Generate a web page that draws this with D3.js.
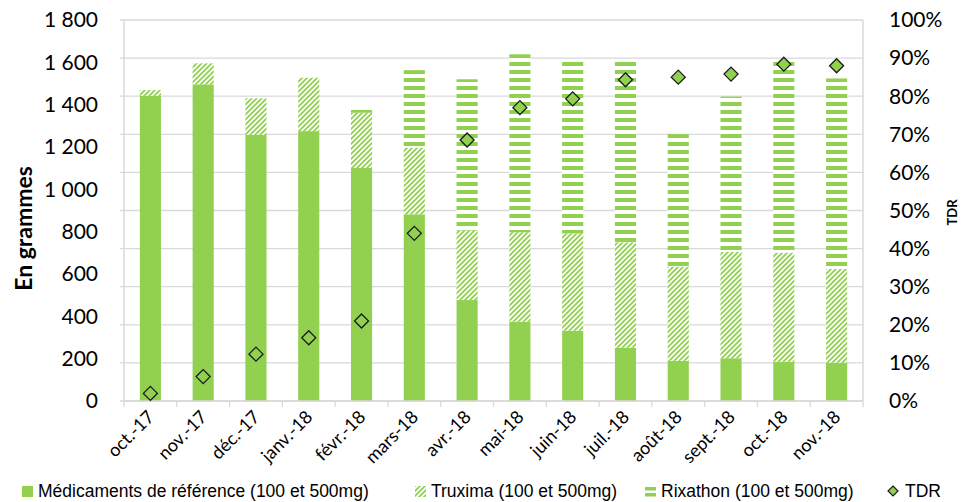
<!DOCTYPE html>
<html>
<head>
<meta charset="utf-8">
<script src="https://cdn.jsdelivr.net/npm/d3@7"></script>
<style>
  html, body { margin: 0; padding: 0; background: #fff; }
  svg { display: block; }
</style>
</head>
<body>
<svg id="chart" width="965" height="502"></svg>
<script>
// Monthly consumption (grams) of rituximab by product, with the TDR share
const months = ["oct.-17", "nov.-17", "déc.-17", "janv.-18", "févr.-18", "mars-18", "avr.-18",
                "mai-18", "juin-18", "juil.-18", "août-18", "sept.-18", "oct.-18", "nov.-18"];
const reference = [1442, 1496, 1257, 1275, 1101, 882, 477, 375, 332, 252, 190, 202, 186, 181];
const truxima   = [27, 99, 173, 252, 261, 315, 328, 422, 460, 498, 445, 503, 515, 443];
const rixathon  = [0, 0, 0, 0, 13, 366, 715, 841, 811, 853, 626, 733, 902, 900];
const tdr       = [0.020, 0.064, 0.123, 0.166, 0.210, 0.440, 0.685, 0.770, 0.793, 0.843, 0.850, 0.858, 0.884, 0.880];
const gramTicks = [0, 200, 400, 600, 800, 1000, 1200, 1400, 1600, 1800];
const pctTicks  = [0, 0.1, 0.2, 0.3, 0.4, 0.5, 0.6, 0.7, 0.8, 0.9, 1];
const seriesNames = ["Médicaments de référence (100 et 500mg)", "Truxima (100 et 500mg)",
                     "Rixathon (100 et 500mg)", "TDR"];

const green = "#92D050";
const gridColor = "#d9d9d9";
const axisFont = "Lato, 'Open Sans', sans-serif";

const svg = d3.select("#chart");
const plot = { left: 124, right: 863, top: 20, bottom: 401 };

const frLocale = d3.formatLocale({ decimal: ",", thousands: "\u00a0", grouping: [3], currency: ["", " €"] });
const fmtGrams = frLocale.format(",d");
const fmtPct = d3.format(".0%");

const x = d3.scaleBand().domain(months).range([plot.left, plot.right])
  .paddingInner(0.6).paddingOuter(0.3);
const yL = d3.scaleLinear().domain([0, 1800]).range([plot.bottom, plot.top]);
const yR = d3.scaleLinear().domain([0, 1]).range([plot.bottom, plot.top]);

// Fill patterns
const defs = svg.append("defs");
const diag = defs.append("pattern").attr("id", "diag")
  .attr("patternUnits", "userSpaceOnUse").attr("width", 5).attr("height", 5);
diag.append("rect").attr("width", 5).attr("height", 5).attr("fill", "#fff");
diag.append("path").attr("d", "M-1,1 L1,-1 M0,5 L5,0 M4,6 L6,4")
  .attr("stroke", green).attr("stroke-width", 1.8);

const stripes = defs.append("pattern").attr("id", "stripes")
  .attr("patternUnits", "userSpaceOnUse").attr("width", 8).attr("height", 8)
  .attr("y", 6);
stripes.append("rect").attr("width", 8).attr("height", 8).attr("fill", "#fff");
stripes.append("rect").attr("y", 0).attr("width", 8).attr("height", 4).attr("fill", green);

// Gridlines (secondary scale)
svg.append("g").selectAll("line").data(pctTicks).join("line")
  .attr("x1", plot.left - 4).attr("x2", plot.right)
  .attr("y1", d => yR(d)).attr("y2", d => yR(d))
  .attr("stroke", gridColor).attr("stroke-width", 1.3);

// Stacked bars
const stackData = months.map((m, i) => ({ m, reference: reference[i], truxima: truxima[i], rixathon: rixathon[i] }));
const stack = d3.stack().keys(["reference", "truxima", "rixathon"])(stackData);
const fills = { reference: green, truxima: "url(#diag)", rixathon: "url(#stripes)" };

svg.append("g").selectAll("g").data(stack).join("g")
  .attr("fill", s => fills[s.key])
  .selectAll("rect").data(s => s).join("rect")
  .attr("x", d => x(d.data.m))
  .attr("width", x.bandwidth())
  .attr("y", d => yL(d[1]))
  .attr("height", d => Math.max(0, yL(d[0]) - yL(d[1])));

// Axis frame lines
svg.append("line").attr("x1", plot.left).attr("x2", plot.left)
  .attr("y1", plot.top).attr("y2", plot.bottom).attr("stroke", gridColor).attr("stroke-width", 1.5);
svg.append("line").attr("x1", plot.right).attr("x2", plot.right)
  .attr("y1", plot.top).attr("y2", plot.bottom).attr("stroke", gridColor).attr("stroke-width", 1.5);
svg.append("line").attr("x1", plot.left).attr("x2", plot.right)
  .attr("y1", plot.bottom).attr("y2", plot.bottom).attr("stroke", gridColor).attr("stroke-width", 1.5);

// Category tick marks between bands
const step = x.step();
svg.append("g").selectAll("line").data(d3.range(months.length + 1)).join("line")
  .attr("x1", i => plot.left + i * step).attr("x2", i => plot.left + i * step)
  .attr("y1", plot.bottom).attr("y2", plot.bottom + 6)
  .attr("stroke", gridColor).attr("stroke-width", 1.3);

// TDR markers
const diamond = r => `M0,${-r}L${r},0L0,${r}L${-r},0Z`;
svg.append("g").selectAll("path").data(tdr).join("path")
  .attr("d", diamond(7))
  .attr("transform", (d, i) => `translate(${x(months[i]) + x.bandwidth() / 2},${yR(d)})`)
  .attr("fill", green).attr("stroke", "#1a1a1a").attr("stroke-width", 1.3);

// Left axis labels
svg.append("g").selectAll("text").data(gramTicks).join("text")
  .attr("x", 98).attr("y", d => yL(d)).attr("dy", "0.35em")
  .attr("text-anchor", "end")
  .attr("font-family", axisFont).attr("font-size", 21).attr("fill", "#000")
  .text(d => fmtGrams(d));

// Right axis labels
svg.append("g").selectAll("text").data(pctTicks).join("text")
  .attr("x", 889).attr("y", d => yR(d)).attr("dy", "0.35em")
  .attr("text-anchor", "start")
  .attr("font-family", axisFont).attr("font-size", 21).attr("fill", "#000")
  .text(d => fmtPct(d));

// Category labels
svg.append("g").selectAll("text").data(months).join("text")
  .attr("transform", d => `translate(${x(d) + x.bandwidth() / 2 + 5},${plot.bottom + 17}) rotate(-45)`)
  .attr("text-anchor", "end")
  .attr("font-family", axisFont).attr("font-size", 18).attr("fill", "#000")
  .text(d => d);

// Axis titles
svg.append("text")
  .attr("transform", `translate(32,${(plot.top + plot.bottom) / 2 + 18}) rotate(-90)`)
  .attr("text-anchor", "middle")
  .attr("font-family", axisFont).attr("font-size", 23).attr("font-weight", "bold")
  .text("En grammes");
svg.append("text")
  .attr("transform", `translate(957,${(plot.top + plot.bottom) / 2 + 2}) rotate(-90)`)
  .attr("text-anchor", "middle")
  .attr("font-family", axisFont).attr("font-size", 13).attr("font-weight", "bold")
  .text("TDR");

// Legend
const legendY = 491;
const legendFont = "'Liberation Sans', Arial, sans-serif";
const legendItems = [
  { x: 22, name: seriesNames[0], kind: "solid" },
  { x: 415, name: seriesNames[1], kind: "diag" },
  { x: 645, name: seriesNames[2], kind: "stripes" },
  { x: 888, name: seriesNames[3], kind: "diamond" }
];
const lg = svg.append("g").selectAll("g").data(legendItems).join("g")
  .attr("transform", d => `translate(${d.x},${legendY})`);
lg.each(function (d) {
  const g = d3.select(this);
  if (d.kind === "solid") {
    g.append("rect").attr("x", 0).attr("y", -5).attr("width", 11).attr("height", 11).attr("fill", green);
  } else if (d.kind === "diag") {
    g.append("rect").attr("x", 0).attr("y", -5).attr("width", 11).attr("height", 11).attr("fill", "url(#diag)");
  } else if (d.kind === "stripes") {
    g.append("rect").attr("x", 0).attr("y", -4).attr("width", 11).attr("height", 3.5).attr("fill", green);
    g.append("rect").attr("x", 0).attr("y", 2).attr("width", 11).attr("height", 3.5).attr("fill", green);
  } else {
    g.append("path").attr("d", diamond(5)).attr("transform", "translate(5,0)")
      .attr("fill", green).attr("stroke", "#1a1a1a").attr("stroke-width", 1.2);
  }
  g.append("text").attr("x", d.kind === "diamond" ? 17 : 16).attr("y", 0).attr("dy", "0.36em")
    .attr("font-family", legendFont).attr("font-size", 17.5).attr("fill", "#000")
    .text(d.name);
});
</script>
</body>
</html>
